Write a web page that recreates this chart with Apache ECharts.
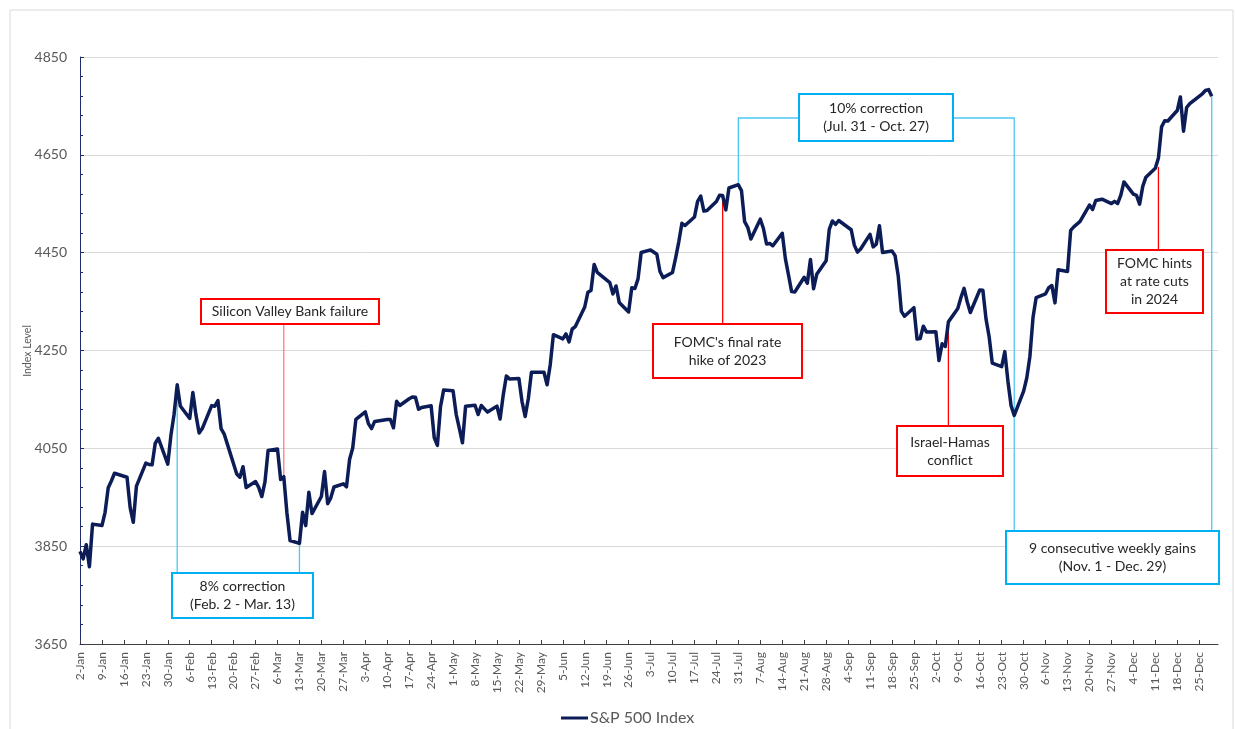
<!DOCTYPE html>
<html>
<head>
<meta charset="utf-8">
<script src="https://cdn.jsdelivr.net/npm/echarts@6/dist/echarts.min.js"></script>
<style>
  html, body { margin: 0; padding: 0; background: #fff; }
  #chart { width: 1235px; height: 729px; }
</style>
</head>
<body>
<div id="chart"></div>
<script>
// S&P 500 daily closes, 2023 (MM-DD)
var months = ['Jan','Feb','Mar','Apr','May','Jun','Jul','Aug','Sep','Oct','Nov','Dec']

var dates = [
  '01-02','01-03','01-04','01-05','01-06','01-09','01-10','01-11','01-12','01-13','01-17','01-18','01-19','01-20','01-23','01-24','01-25','01-26','01-27','01-30','01-31',
  '02-01','02-02','02-03','02-06','02-07','02-08','02-09','02-10','02-13','02-14','02-15','02-16','02-17','02-21','02-22','02-23','02-24','02-27','02-28',
  '03-01','03-02','03-03','03-06','03-07','03-08','03-09','03-10','03-13','03-14','03-15','03-16','03-17','03-20','03-21','03-22','03-23','03-24','03-27','03-28','03-29','03-30','03-31',
  '04-03','04-04','04-05','04-06','04-10','04-11','04-12','04-13','04-14','04-17','04-18','04-19','04-20','04-21','04-24','04-25','04-26','04-27','04-28',
  '05-01','05-02','05-03','05-04','05-05','05-08','05-09','05-10','05-11','05-12','05-15','05-16','05-17','05-18','05-19','05-22','05-23','05-24','05-25','05-26','05-30','05-31',
  '06-01','06-02','06-05','06-06','06-07','06-08','06-09','06-12','06-13','06-14','06-15','06-16','06-20','06-21','06-22','06-23','06-26','06-27','06-28','06-29','06-30',
  '07-03','07-05','07-06','07-07','07-10','07-11','07-12','07-13','07-14','07-17','07-18','07-19','07-20','07-21','07-24','07-25','07-26','07-27','07-28','07-31',
  '08-01','08-02','08-03','08-04','08-07','08-08','08-09','08-10','08-11','08-14','08-15','08-16','08-17','08-18','08-21','08-22','08-23','08-24','08-25','08-28','08-29','08-30','08-31',
  '09-01','09-05','09-06','09-07','09-08','09-11','09-12','09-13','09-14','09-15','09-18','09-19','09-20','09-21','09-22','09-25','09-26','09-27','09-28','09-29',
  '10-02','10-03','10-04','10-05','10-06','10-09','10-10','10-11','10-12','10-13','10-16','10-17','10-18','10-19','10-20','10-23','10-24','10-25','10-26','10-27','10-30','10-31',
  '11-01','11-02','11-03','11-06','11-07','11-08','11-09','11-10','11-13','11-14','11-15','11-16','11-17','11-20','11-21','11-22','11-24','11-27','11-28','11-29','11-30',
  '12-01','12-04','12-05','12-06','12-07','12-08','12-11','12-12','12-13','12-14','12-15','12-18','12-19','12-20','12-21','12-22','12-26','12-27','12-28','12-29'
]

var closes = [
  3839.50,3824.14,3852.97,3808.10,3895.08,3892.09,3919.25,3969.61,3983.17,3999.09,3990.97,3928.86,3898.85,3972.61,4019.81,4016.95,4016.22,4060.43,4070.56,4017.77,4076.60,
  4119.21,4179.76,4136.48,4111.08,4164.00,4117.86,4081.50,4090.46,4137.29,4136.13,4147.60,4090.41,4079.09,3997.34,3991.05,4012.32,3970.04,3982.24,3970.15,
  3951.39,3981.35,4045.64,4048.42,3986.37,3992.01,3918.32,3861.59,3855.76,3919.29,3891.93,3960.28,3916.64,3951.57,4002.87,3936.97,3948.72,3970.99,3977.53,3971.27,4027.81,4050.83,4109.31,
  4124.51,4100.60,4090.38,4105.02,4109.11,4108.94,4091.95,4146.22,4137.64,4151.32,4154.87,4154.52,4129.79,4133.52,4137.04,4071.63,4055.99,4135.35,4169.48,
  4167.87,4119.58,4090.75,4061.22,4136.25,4138.12,4119.17,4137.64,4130.62,4124.08,4136.28,4109.90,4158.77,4198.05,4191.98,4192.63,4145.58,4115.24,4151.28,4205.45,4205.52,4179.83,
  4221.02,4282.37,4273.79,4283.85,4267.52,4293.93,4298.86,4338.93,4369.01,4372.59,4425.84,4409.59,4388.71,4365.69,4381.89,4348.33,4328.82,4378.41,4376.86,4396.44,4450.38,
  4455.59,4446.82,4411.59,4398.95,4409.53,4439.26,4472.16,4510.04,4505.42,4522.79,4554.98,4565.72,4534.87,4536.34,4554.64,4567.46,4566.75,4537.41,4582.23,4588.96,
  4576.73,4513.39,4501.89,4478.03,4518.44,4499.38,4467.71,4468.83,4464.05,4489.72,4437.86,4404.33,4370.36,4369.71,4399.77,4387.55,4436.01,4376.31,4405.71,4433.31,4497.63,4514.87,4507.66,
  4515.77,4496.83,4465.48,4451.14,4457.49,4487.46,4461.90,4467.44,4505.10,4450.32,4453.53,4443.95,4402.20,4330.00,4320.06,4337.44,4273.53,4274.51,4299.70,4288.05,
  4288.39,4229.45,4263.75,4258.19,4308.50,4335.66,4358.24,4376.95,4349.61,4327.78,4373.63,4373.20,4314.60,4278.00,4224.16,4217.04,4247.68,4186.77,4137.23,4117.37,4166.82,4193.80,
  4237.86,4317.78,4358.34,4365.98,4378.38,4382.78,4347.35,4415.24,4411.55,4495.70,4502.88,4508.24,4514.02,4547.38,4538.19,4556.62,4559.34,4550.43,4554.89,4550.58,4567.80,
  4594.63,4569.78,4567.18,4549.34,4585.59,4604.37,4622.44,4643.70,4707.09,4719.55,4719.19,4740.56,4768.37,4698.35,4746.75,4754.63,4774.75,4781.58,4783.35,4769.83
]

// annotations: [date the leader line points at, text]
var redNotes = [
  ['03-08', 'Silicon Valley Bank failure'],
  ['07-26', "FOMC's final rate\nhike of 2023"],
  ['10-06', 'Israel-Hamas\nconflict'],
  ['12-12', 'FOMC hints\nat rate cuts\nin 2024']
]
var blueNotes = [
  ['02-02', '03-13', '8% correction\n(Feb. 2 - Mar. 13)'],
  ['07-31', '10-27', '10% correction\n(Jul. 31 - Oct. 27)'],
  ['10-27', '12-29', '9 consecutive weekly gains\n(Nov. 1 - Dec. 29)']
]

var DAY = 86400000
var START = Date.UTC(2023, 0, 2)
function dayIndex(md) {
  var p = md.split('-')
  return Math.round((Date.UTC(2023, +p[0] - 1, +p[1]) - START) / DAY)
}
function closeOn(md) {
  return closes[dates.indexOf(md)]
}

var seriesData = dates.map(function (d, i) { return [dayIndex(d), closes[i]] })

var FONT = 'Lato, "Open Sans", sans-serif'
var GREY = '#595959'

var chart = echarts.init(document.getElementById('chart'))

chart.setOption({
  animation: false,
  textStyle: { fontFamily: FONT },
  grid: { left: 80, right: 17, top: 57, bottom: 85 },
  legend: {
    left: 556,
    top: 705,
    icon: 'rect',
    itemWidth: 27,
    itemHeight: 3,
    itemGap: 0,
    textStyle: { color: GREY, fontSize: 16, padding: [0, 0, 0, -3] },
    data: ['S&P 500 Index']
  },
  xAxis: {
    type: 'value',
    min: 0,
    max: 363,
    interval: 7,
    splitLine: { show: false },
    axisLine: { lineStyle: { color: '#404040', width: 1 } },
    axisTick: { inside: true, length: 4, lineStyle: { color: '#404040' } },
    axisLabel: {
      rotate: 90,
      margin: 8,
      color: GREY,
      fontSize: 12,
      showMaxLabel: false,
      formatter: function (v) {
        if (v % 7 !== 0) return ''
        var dt = new Date(START + v * DAY)
        return dt.getUTCDate() + '-' + months[dt.getUTCMonth()]
      }
    }
  },
  yAxis: {
    type: 'value',
    min: 3650,
    max: 4850,
    interval: 200,
    axisLine: { show: true, lineStyle: { color: '#1f2d6b', width: 1 } },
    axisTick: { show: true, inside: true, length: 4, lineStyle: { color: '#1f2d6b' } },
    minorTick: { show: true, splitNumber: 5, length: 3, lineStyle: { color: '#1f2d6b' } },
    axisLabel: {
      color: GREY, fontSize: 14, margin: 13,
      formatter: function (v) { return String(v) }
    },
    splitLine: { lineStyle: { color: '#d9d9d9', width: 1 } }
  },
  series: [{
    name: 'S&P 500 Index',
    type: 'line',
    data: seriesData,
    showSymbol: false,
    lineStyle: { color: '#0c1c56', width: 3.5, join: 'round' },
    itemStyle: { color: '#0c1c56' },
    z: 5
  }]
})

function px(md, val) {
  return chart.convertToPixel({ seriesIndex: 0 }, [dayIndex(md), val === undefined ? closeOn(md) : val])
}

// box layout (pixels): x, y, w, h
var redBoxes = [
  [201, 299, 178, 25],
  [653, 324, 149, 54],
  [897, 426, 106, 50],
  [1106, 250, 97, 63]
]
var blueBoxes = [
  [172, 573, 141, 45],
  [799, 94, 154, 47],
  [1006, 531, 213, 53]
]

var els = []

function box(b, text, color) {
  els.push({
    type: 'rect', z: 20,
    shape: { x: b[0], y: b[1], width: b[2], height: b[3] },
    style: { fill: '#fff', stroke: color, lineWidth: 2 }
  })
  els.push({
    type: 'text', z: 21,
    style: {
      text: text, x: b[0] + b[2] / 2, y: b[1] + b[3] / 2,
      align: 'center', verticalAlign: 'middle',
      font: '14px ' + FONT, lineHeight: 18, fill: '#262626'
    }
  })
}
function line(pts, color) {
  els.push({
    type: 'polyline', z: 1,
    shape: { points: pts },
    style: { stroke: color, lineWidth: 1.3, fill: null }
  })
}

redNotes.forEach(function (n, i) {
  var b = redBoxes[i]
  var p = px(n[0], n[0] === '12-12' ? 4625 : undefined)
  var top = b[1] + b[3]
  if (p[1] > top) line([[p[0], top], [p[0], p[1]]], i === 0 ? '#ff7c80' : '#ff0000')
  else line([[p[0], b[1]], [p[0], p[1]]], '#ff0000')
  box(b, n[1], '#ff0000')
})

// 8% correction: both legs go down into the box
var b0 = blueBoxes[0]
var a = px(blueNotes[0][0]), c = px(blueNotes[0][1])
line([[a[0], a[1]], [a[0], b0[1]]], '#4dc8f2')
line([[c[0], c[1]], [c[0], b0[1]]], '#4dc8f2')
box(b0, blueNotes[0][2], '#00b0f0')

// 10% correction: elbow leaders from the sides of the box
var b1 = blueBoxes[1]
var midY = b1[1] + 24
a = px(blueNotes[1][0]); c = px(blueNotes[1][1])
line([[a[0], a[1]], [a[0], midY], [b1[0], midY]], '#4dc8f2')
line([[b1[0] + b1[2], midY], [c[0], midY], [c[0], blueBoxes[2][1]]], '#4dc8f2')
box(b1, blueNotes[1][2], '#00b0f0')

// 9 weekly gains
var b2 = blueBoxes[2]
c = px(blueNotes[2][1])
line([[c[0], c[1]], [c[0], b2[1]]], '#4dc8f2')
box(b2, blueNotes[2][2], '#00b0f0')

// y-axis title
els.push({
  type: 'text', z: 5,
  x: 28, y: 351, rotation: Math.PI / 2,
  style: {
    text: 'Index Level', x: 0, y: 0,
    align: 'center', verticalAlign: 'middle',
    font: '10.5px ' + FONT, fill: GREY
  }
})

// outer chart-area border
els.push({
  type: 'rect', z: 0,
  shape: { x: 10, y: 10, width: 1223, height: 730 },
  style: { fill: null, stroke: '#d9d9d9', lineWidth: 1 }
})

chart.setOption({ graphic: els })
</script>
</body>
</html>
